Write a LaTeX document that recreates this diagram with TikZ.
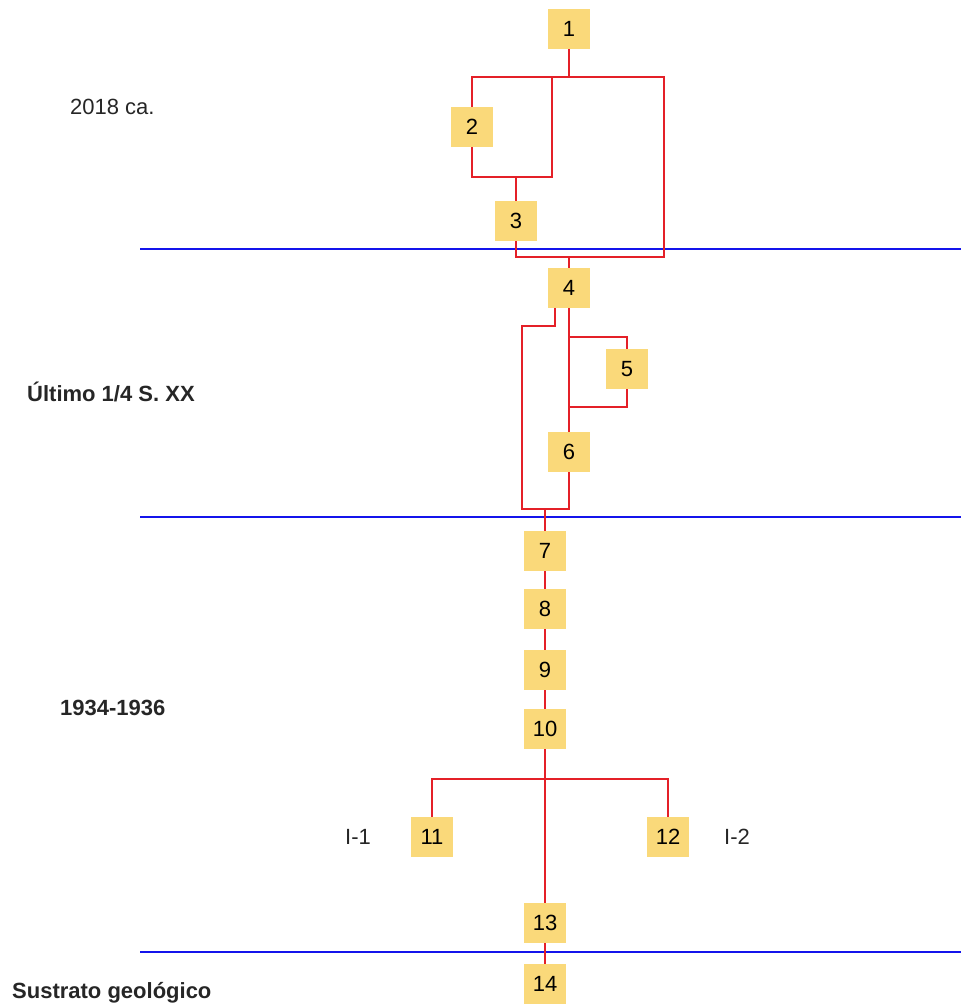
\documentclass[tikz,border=0pt]{standalone}
\usepackage{fontspec}
\setmainfont{Liberation Sans}
\definecolor{boxfill}{RGB}{250,217,122}
\definecolor{connred}{RGB}{228,32,40}
\definecolor{erablue}{RGB}{20,20,235}
\begin{document}
\begin{tikzpicture}[x=1pt,y=-1pt,
  font=\fontsize{22}{26}\selectfont,
  ue/.style={fill=boxfill,draw=none,minimum width=42pt,minimum height=40pt,inner sep=0pt},
  conn/.style={draw=connred,line width=2.5pt,line cap=butt,line join=miter},
  era/.style={draw=erablue,line width=2.2pt},
  lab/.style={anchor=west,inner sep=0pt,text=black!85}]
\useasboundingbox (0,0) rectangle (961,1006);
% period separators
\coordinate (s1a) at (140,249); \coordinate (s1b) at (961,249);
\coordinate (s2a) at (140,517); \coordinate (s2b) at (961,517);
\coordinate (s3a) at (140,952); \coordinate (s3b) at (961,952);
\draw[era] (s1a) -- (s1b);
\draw[era] (s2a) -- (s2b);
\draw[era] (s3a) -- (s3b);
% units
\node[ue] (n1) at (569,29) {1};
\node[ue] (n2) at (472,127) {2};
\node[ue] (n3) at (516,221) {3};
\node[ue] (n4) at (569,288) {4};
\node[ue] (n5) at (627,369) {5};
\node[ue] (n6) at (569,452) {6};
\node[ue] (n7) at (545,551) {7};
\node[ue] (n8) at (545,609) {8};
\node[ue] (n9) at (545,670) {9};
\node[ue] (n10) at (545,729) {10};
\node[ue] (n11) at (432,837) {11};
\node[ue] (n12) at (668,837) {12};
\node[ue] (n13) at (545,923) {13};
\node[ue] (n14) at (545,984) {14};
% labels
\node[lab] (t1) at (70,107) {2018 ca.};
\node[lab,font=\fontsize{22}{26}\selectfont\bfseries] (t2) at (27,392) {Último 1/4 S. XX};
\node[lab,font=\fontsize{22}{26}\selectfont\bfseries] (t3) at (60,708) {1934-1936};
\node[lab,font=\fontsize{22}{26}\selectfont\bfseries] (t4) at (12,993) {Sustrato geológico};
\node[text=black!85] (i1) at (358,837) {I-1};
\node[text=black!85] (i2) at (737,837) {I-2};
% junction coordinates
\coordinate (a2) at (664,77);
\coordinate (a3) at (552,77);
\coordinate (a4) at (552,177);
\coordinate (a5) at (664,257);
\coordinate (b1) at (522,326);
\coordinate (b2) at (522,509);
\coordinate (b3) at (569,337);
\coordinate (b4) at (569,407);
\coordinate (b5) at (545,509);
\coordinate (c1) at (545,779);
% connectors
\draw[conn] (n1.south) -- (n1.south |- a2);
\draw[conn] (n2.north) |- (a2) -- (a5) -| (n3.south);
\draw[conn] (a3) -- (a4) -| (n2.south);
\draw[conn] (n3.north) -- (n3.north |- a4);
\draw[conn] (n4.north) -- (n4.north |- a5);
\draw[conn] ([xshift=-14pt]n4.south) |- (b1) -- (b2) -| (n6.south);
\draw[conn] (n4.south) -- (n6.north);
\draw[conn] (b3) -| (n5.north);
\draw[conn] (n5.south) |- (b4);
\draw[conn] (b5) -- (n7.north);
\draw[conn] (n7.south) -- (n8.north);
\draw[conn] (n8.south) -- (n9.north);
\draw[conn] (n9.south) -- (n10.north);
\draw[conn] (n10.south) -- (n13.north);
\draw[conn] (n11.north) |- (n12.north |- c1) -- (n12.north);
\draw[conn] (n13.south) -- (n14.north);
\end{tikzpicture}
\end{document}
